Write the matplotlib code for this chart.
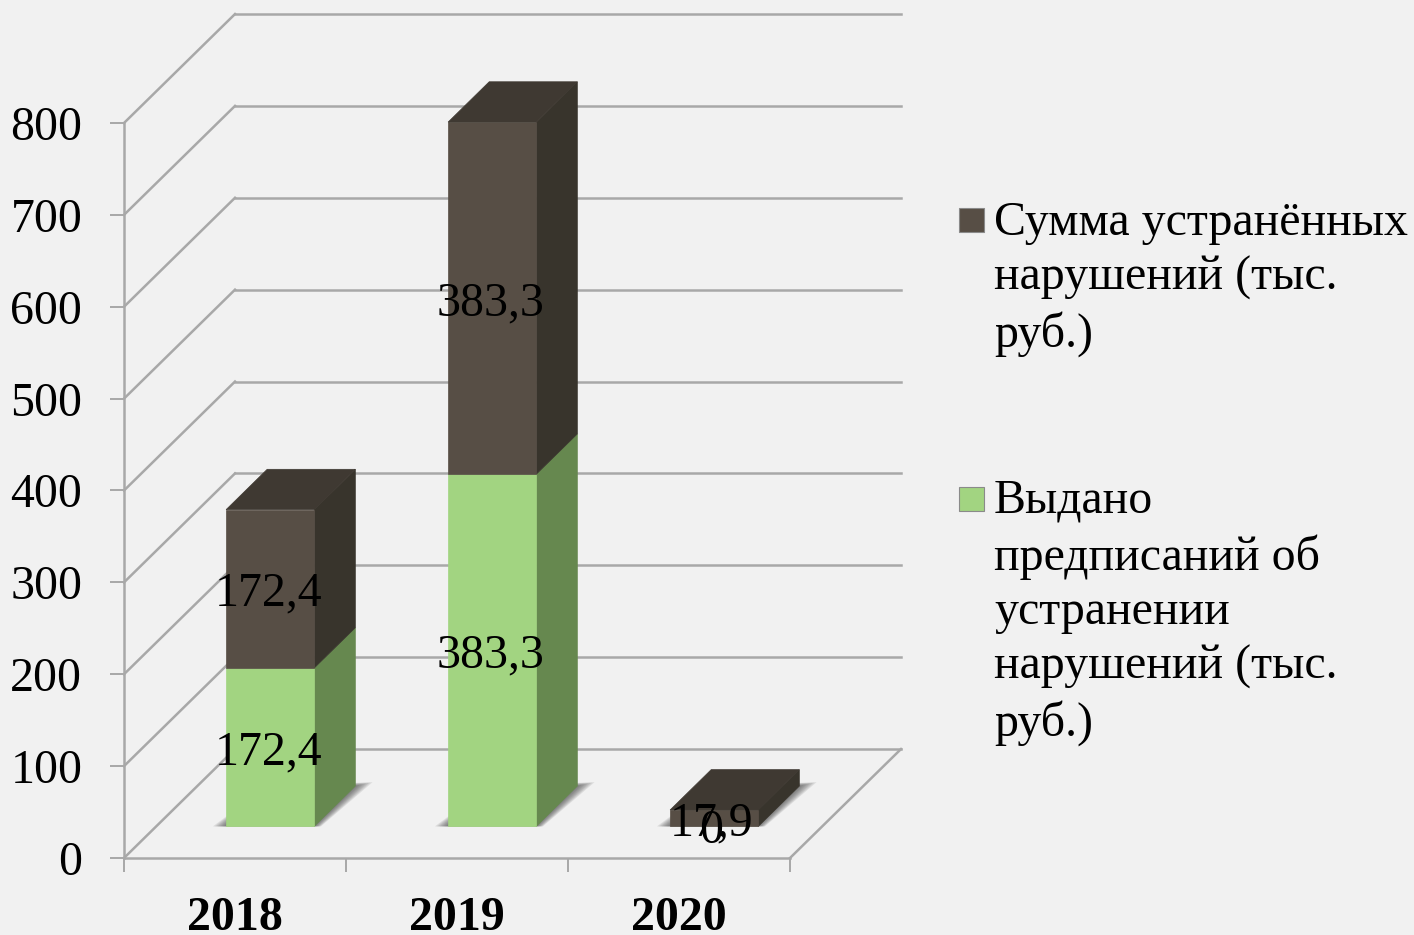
import matplotlib
matplotlib.use('Agg')
import matplotlib.pyplot as plt
from matplotlib.patches import Polygon, Rectangle

plt.rcParams['font.family'] = ['Liberation Serif', 'DejaVu Serif']

years = ['2018', '2019', '2020']
issued = [172.4, 383.3, 0]
fixed = [172.4, 383.3, 17.9]
y_ticks = [0, 100, 200, 300, 400, 500, 600, 700, 800]
issued_name = 'Выдано\nпредписаний об\nустранении\nнарушений (тыс.\nруб.)'
fixed_name = 'Сумма устранённых\nнарушений (тыс.\nруб.)'

W, H = 1414, 935
BG = '#f1f1f1'
GRID = '#a8a8a8'
FS = 34.5

fig = plt.figure(figsize=(W / 100, H / 100), dpi=100, facecolor=BG)
ax = fig.add_axes([124 / W, 1 - 858 / H, (790 - 124) / W, (858 - 123) / H])
ax.set_facecolor('none')
ax.set_xlim(0, 3)
ax.set_ylim(0, 800)

# fake 3d: depth 0..1 shifts a point right and up
DX = 0.5
DY = 118.6


def proj(x, y, d):
    return (x + d * DX, y + d * DY)


def face(pts, color, z):
    ax.add_patch(Polygon(pts, closed=True, facecolor=color, edgecolor=color,
                         linewidth=0.5, zorder=z, clip_on=False))


def shadow(pts, alpha):
    ax.add_patch(Polygon(pts, closed=True, facecolor=(0.2, 0.2, 0.2, alpha), edgecolor='none',
                         zorder=2, clip_on=False))


# walls and floor
for t in y_ticks:
    ax.plot(*zip(proj(0, t, 0), proj(0, t, 1)), color=GRID, lw=1.8, zorder=1, clip_on=False)
    ax.plot(*zip(proj(0, t, 1), proj(3, t, 1)), color=GRID, lw=1.8, zorder=1, clip_on=False)
ax.plot(*zip(proj(3, 0, 0), proj(3, 0, 1)), color=GRID, lw=1.8, zorder=1, clip_on=False)

BAR_L = 0.315
BAR_W = 0.397
D0 = 0.29
D1 = 0.66

colors = {
    'green': ('#a2d481', '#66884f', '#7fa565'),
    'brown': ('#574e45', '#38342c', '#3f3932'),
}

for i in range(len(years)):
    x0 = i + BAR_L
    x1 = x0 + BAR_W

    # soft floor shadow
    for step in range(1, 9):
        e = 0.0075 * step
        shadow([proj(x0 - e, 0, D0), proj(x1 + e * 0.5, 0, D0),
                proj(x1 + e, 0, D1 + e * 0.6), proj(x0, 0, D1)], 0.1)

    base = 0
    for val, key in ((issued[i], 'green'), (fixed[i], 'brown')):
        front, side, top = colors[key]
        y0, y1 = base, base + val
        if val > 0:
            face([proj(x1, y0, D0), proj(x1, y0, D1), proj(x1, y1, D1), proj(x1, y1, D0)], side, 3)
            face([proj(x0, y0, D0), proj(x1, y0, D0), proj(x1, y1, D0), proj(x0, y1, D0)], front, 4)
        base = y1
    face([proj(x0, base, D0), proj(x1, base, D0), proj(x1, base, D1), proj(x0, base, D1)], colors['brown'][2], 4)

    # data labels
    shift = 0.012 if issued[i] == 0 else 0.006
    lx, ly = proj(x0 + BAR_W / 2 - shift, issued[i] / 2, D0)
    ax.text(lx, ly, str(issued[i]).replace('.', ','), fontsize=FS,
            ha='center', va='center_baseline', zorder=6, clip_on=False)
    lx, ly = proj(x0 + BAR_W / 2 - shift, issued[i] + fixed[i] / 2, D0)
    ax.text(lx, ly, str(fixed[i]).replace('.', ','), fontsize=FS,
            ha='center', va='center_baseline', zorder=6, clip_on=False)

# axes
for s in ('top', 'right'):
    ax.spines[s].set_visible(False)
for s in ('left', 'bottom'):
    ax.spines[s].set_color(GRID)
    ax.spines[s].set_linewidth(1.8)
ax.set_yticks(y_ticks)
ax.set_yticklabels([str(t) for t in y_ticks], fontsize=FS)
ax.tick_params(axis='y', length=10, width=1.4, color=GRID, pad=20)
ax.set_xticks([0, 1, 2, 3])
ax.set_xticklabels([])
ax.tick_params(axis='x', which='major', length=10, width=1.4, color=GRID)
ax.set_xticks([0.5, 1.5, 2.5], minor=True)
ax.set_xticklabels(years, minor=True, fontsize=FS, fontweight='bold')
ax.tick_params(axis='x', which='minor', length=0, pad=27)

# legend, swatch sits beside first line so it is done by hand
for name, color, sy, ty in ((fixed_name, colors['brown'][0], 208, 221),
                            (issued_name, colors['green'][0], 487, 499)):
    fig.add_artist(Rectangle((959 / W, 1 - (sy + 24) / H), 25 / W, 24 / H,
                             facecolor=color, edgecolor='#8a8a8a', linewidth=0.8,
                             transform=fig.transFigure))
    fig.text(994 / W, 1 - (ty - 20) / H, name, fontsize=FS, va='top', ha='left', linespacing=1.31)

fig.savefig('out.png', dpi=100, facecolor=BG)
